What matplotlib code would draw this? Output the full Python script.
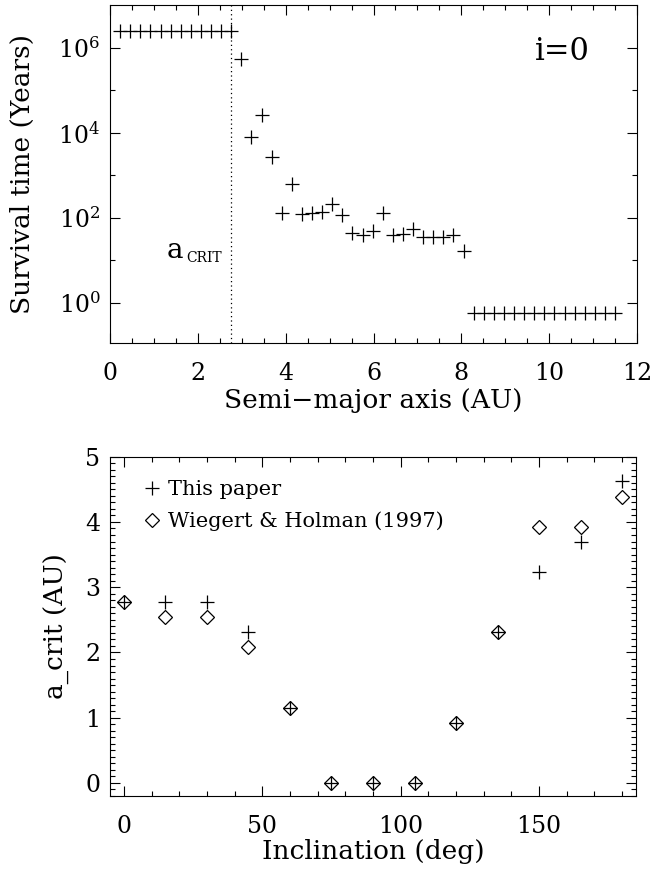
import matplotlib
matplotlib.use('Agg')
import matplotlib.pyplot as plt
import numpy as np
from matplotlib.ticker import FixedLocator, MultipleLocator, FixedFormatter

plt.rcParams['font.family'] = ['DejaVu Serif']
plt.rcParams['mathtext.fontset'] = 'dejavuserif'

# top panel: survival time vs semi-major axis (i=0)
semi_major = [0.23, 0.46, 0.69, 0.92, 1.15, 1.38, 1.61, 1.84, 2.07, 2.30, 2.53, 2.76,
              2.99, 3.22, 3.45, 3.68, 3.91, 4.14, 4.37, 4.60, 4.83, 5.06, 5.29, 5.52,
              5.75, 5.98, 6.21, 6.44, 6.67, 6.90, 7.13, 7.36, 7.59, 7.82, 8.05,
              8.28, 8.51, 8.74, 8.97, 9.20, 9.43, 9.66, 9.89, 10.12, 10.35, 10.58,
              10.81, 11.04, 11.27, 11.50]
survival = [2.4e6] * 12 + [5.4e5, 7.9e3, 2.6e4, 2.75e3, 129, 617, 123, 129, 135, 209,
                           117, 44, 40, 50, 129, 40, 42, 54, 35, 35, 36, 40, 17] + [0.575] * 15
a_crit_i0 = 2.76

# bottom panel: critical semi-major axis vs inclination
incl = [0, 15, 30, 45, 60, 75, 90, 105, 120, 135, 150, 165, 180]
acrit_this = [2.77, 2.77, 2.77, 2.31, 1.15, 0.0, 0.0, 0.0, 0.92, 2.31, 3.24, 3.69, 4.62]
acrit_wh = [2.77, 2.54, 2.54, 2.08, 1.15, 0.0, 0.0, 0.0, 0.92, 2.31, 3.92, 3.92, 4.39]

fig = plt.figure(figsize=(6.54, 8.75), dpi=100)
ax1 = fig.add_axes([110/654, 1-343/875, 527/654, 338/875])
ax2 = fig.add_axes([110/654, 1-796/875, 526/654, 339.3/875])

fs = 17      # tick labels
lfs = 19     # axis titles
for ax in (ax1, ax2):
    for s in ax.spines.values():
        s.set_linewidth(0.8)
    ax.tick_params(which='both', direction='in', top=True, right=True, width=0.8,
                   labelsize=fs)
    ax.tick_params(axis='x', pad=14)
    ax.tick_params(axis='y', pad=7)
    ax.tick_params(which='major', length=7)
    ax.tick_params(which='minor', length=3.5)

ax1.plot(semi_major, survival, linestyle='none', marker='+', color='k',
         markersize=10, markeredgewidth=0.9)
ax1.axvline(a_crit_i0, color='k', linestyle=(0, (1, 2.5)), linewidth=0.9)
ax1.set_yscale('log')
ax1.set_xlim(0, 12)
ax1.set_ylim(10**-0.94, 1e7)
ax1.xaxis.set_major_locator(MultipleLocator(2))
ax1.xaxis.set_minor_locator(MultipleLocator(0.5))
ax1.yaxis.set_major_locator(FixedLocator([1, 1e2, 1e4, 1e6]))
ax1.yaxis.set_major_formatter(FixedFormatter([r'$10^{0}$', r'$10^{2}$', r'$10^{4}$', r'$10^{6}$']))
ax1.yaxis.set_minor_locator(FixedLocator([10, 1e3, 1e5]))
ax1.yaxis.set_minor_formatter(FixedFormatter([]))
ax1.set_xlabel('Semi\u2212major axis (AU)', fontsize=lfs)
ax1.set_ylabel('Survival time (Years)', fontsize=lfs)
ax1.xaxis.set_label_coords(0.5, -0.133)
ax1.yaxis.set_label_coords(-0.142, 0.5)
ax1.text(0.911, 0.861, 'i=0', transform=ax1.transAxes, fontsize=22, ha='right', va='center')
ax1.text(1.28, 11.2, 'a', fontsize=20, ha='left', va='baseline')
ax1.text(1.74, 9.0, 'CRIT', fontsize=10, ha='left', va='baseline')

ax2.plot(incl, acrit_this, linestyle='none', marker='+', color='k',
         markersize=10, markeredgewidth=0.9, label='This paper')
ax2.plot(incl, acrit_wh, linestyle='none', marker='D', color='k', markerfacecolor='none',
         markersize=7.5, markeredgewidth=0.9, label='Wiegert & Holman (1997)')
ax2.set_xlim(-5, 185)
ax2.set_ylim(-0.2, 5)
ax2.xaxis.set_major_locator(MultipleLocator(50))
ax2.xaxis.set_minor_locator(MultipleLocator(10))
ax2.yaxis.set_major_locator(MultipleLocator(1))
ax2.yaxis.set_minor_locator(MultipleLocator(0.1))
ax2.set_xlabel('Inclination (deg)', fontsize=lfs)
ax2.set_ylabel('a_crit (AU)', fontsize=lfs)
ax2.xaxis.set_label_coords(0.5, -0.127)
ax2.yaxis.set_label_coords(-0.076, 0.5)
ax2.legend(loc='upper left', bbox_to_anchor=(0.041, 0.974), frameon=False, fontsize=15,
           handlelength=0.6, handletextpad=0.45, labelspacing=0.6, borderpad=0.2)

fig.savefig('out.png', dpi=100)
